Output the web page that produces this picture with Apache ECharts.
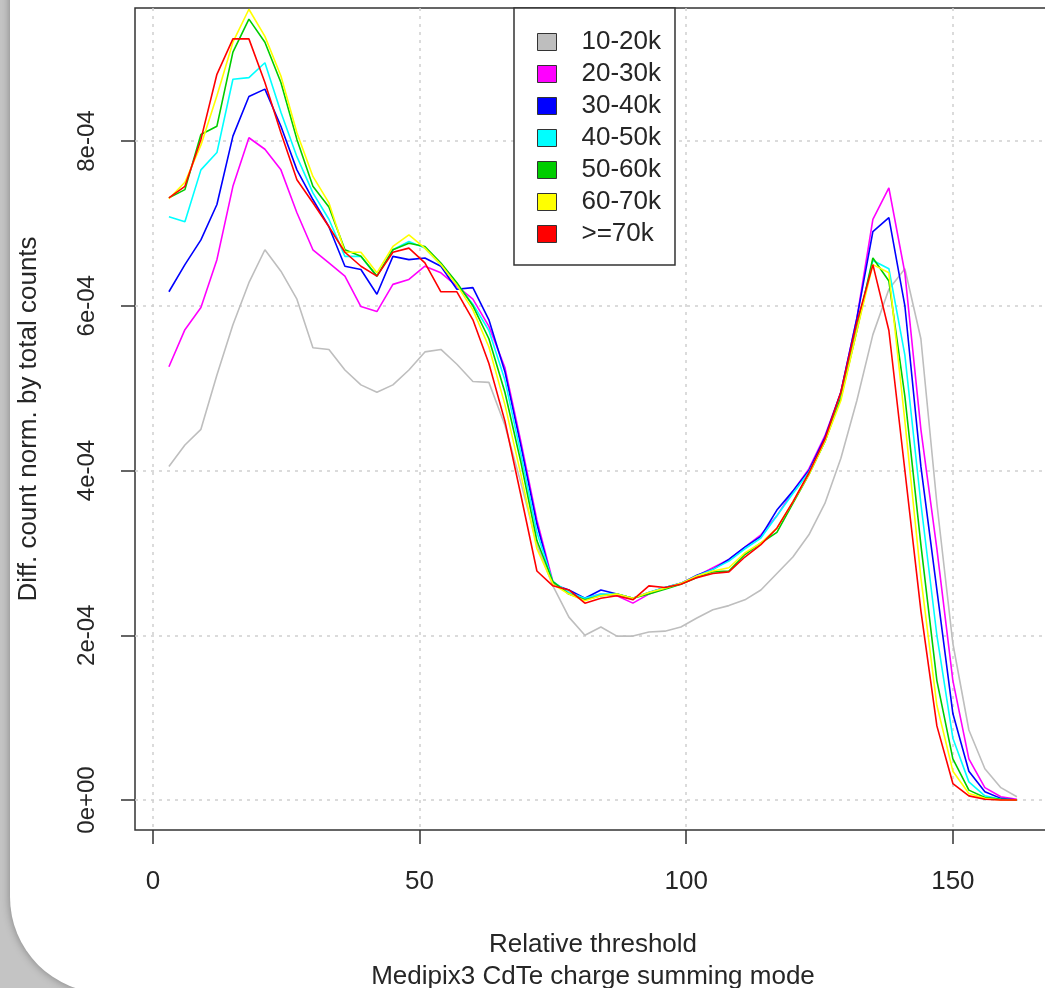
<!DOCTYPE html>
<html>
<head>
<meta charset="utf-8">
<script src="https://cdn.jsdelivr.net/npm/echarts@6/dist/echarts.min.js"></script>
<style>
    html, body { margin: 0; padding: 0; background: #fff; }
    #chart { width: 1045px; height: 988px; }
</style>
</head>
<body>
<div id="chart"></div>
<script>
// relative threshold (x)
const thresholds = [3, 6, 9, 12, 15, 18, 21, 24, 27, 30, 33, 36, 39, 42, 45, 48, 51, 54, 57, 60,
    63, 66, 69, 72, 75, 78, 81, 84, 87, 90, 93, 96, 99, 102, 105, 108, 111, 114, 117, 120,
    123, 126, 129, 132, 135, 138, 141, 144, 147, 150, 153, 156, 159, 162];

// diff. count norm. by total counts, in units of 1e-4
const counts10_20k = [4.05, 4.31, 4.5, 5.16, 5.77, 6.28, 6.68, 6.42, 6.08, 5.49, 5.47, 5.22, 5.04, 4.95, 5.04, 5.22, 5.44, 5.47, 5.29, 5.08,
    5.07, 4.55, 3.85, 3.1, 2.6, 2.22, 2.0, 2.1, 1.99, 1.99, 2.04, 2.05, 2.1, 2.21, 2.31, 2.36, 2.43, 2.55, 2.75, 2.95,
    3.22, 3.6, 4.15, 4.85, 5.65, 6.2, 6.45, 5.6, 3.6, 1.9, 0.85, 0.38, 0.15, 0.04];
const counts20_30k = [5.26, 5.71, 5.98, 6.56, 7.45, 8.04, 7.9, 7.65, 7.13, 6.68, 6.52, 6.36, 5.99, 5.93, 6.26, 6.32, 6.48, 6.4, 6.24, 6.08,
    5.75, 5.25, 4.35, 3.4, 2.65, 2.5, 2.45, 2.5, 2.48, 2.39, 2.5, 2.57, 2.63, 2.72, 2.82, 2.92, 3.07, 3.22, 3.45, 3.75,
    4.02, 4.42, 4.95, 5.85, 7.05, 7.43, 6.4, 4.5, 3.05, 1.45, 0.5, 0.15, 0.04, 0.01];
const counts30_40k = [6.17, 6.5, 6.8, 7.23, 8.06, 8.54, 8.63, 8.18, 7.65, 7.29, 6.96, 6.48, 6.44, 6.14, 6.6, 6.56, 6.58, 6.48, 6.2, 6.22,
    5.83, 5.2, 4.3, 3.35, 2.62, 2.55, 2.45, 2.55, 2.5, 2.45, 2.52, 2.58, 2.63, 2.73, 2.8, 2.92, 3.07, 3.2, 3.52, 3.75,
    4.0, 4.4, 4.95, 5.85, 6.9, 7.07, 6.0, 4.05, 2.55, 1.05, 0.35, 0.1, 0.02, 0];
const counts40_50k = [7.08, 7.02, 7.65, 7.86, 8.75, 8.77, 8.95, 8.35, 7.81, 7.37, 7.05, 6.6, 6.6, 6.36, 6.68, 6.78, 6.7, 6.5, 6.26, 6.02,
    5.7, 5.1, 4.2, 3.25, 2.65, 2.52, 2.45, 2.5, 2.5, 2.45, 2.52, 2.58, 2.63, 2.72, 2.8, 2.9, 3.05, 3.18, 3.45, 3.72,
    3.98, 4.35, 4.9, 5.75, 6.55, 6.45, 5.4, 3.6, 2.0, 0.75, 0.22, 0.05, 0.01, 0];
const counts50_60k = [7.31, 7.41, 8.08, 8.18, 9.08, 9.48, 9.2, 8.71, 8.02, 7.45, 7.2, 6.68, 6.6, 6.36, 6.68, 6.76, 6.72, 6.52, 6.28, 6.0,
    5.6, 4.95, 4.1, 3.15, 2.65, 2.5, 2.43, 2.48, 2.5, 2.45, 2.5, 2.56, 2.62, 2.7, 2.77, 2.78, 2.98, 3.12, 3.25, 3.6,
    3.95, 4.35, 4.88, 5.7, 6.58, 6.3, 4.9, 3.1, 1.45, 0.5, 0.12, 0.03, 0.01, 0];
const counts60_70k = [7.3, 7.5, 7.95, 8.55, 9.2, 9.6, 9.27, 8.79, 8.1, 7.57, 7.25, 6.65, 6.65, 6.4, 6.72, 6.86, 6.7, 6.5, 6.25, 5.95,
    5.5, 4.8, 3.95, 3.05, 2.62, 2.5, 2.42, 2.48, 2.5, 2.45, 2.52, 2.57, 2.63, 2.72, 2.78, 2.82, 3.0, 3.12, 3.3, 3.62,
    3.95, 4.35, 4.85, 5.7, 6.5, 6.4, 4.6, 2.7, 1.15, 0.35, 0.08, 0.02, 0, 0];
const counts70k = [7.31, 7.45, 8.02, 8.81, 9.24, 9.24, 8.71, 8.1, 7.53, 7.25, 6.96, 6.65, 6.48, 6.36, 6.65, 6.7, 6.52, 6.17, 6.17, 5.83,
    5.3, 4.6, 3.7, 2.78, 2.6, 2.55, 2.39, 2.45, 2.48, 2.43, 2.6, 2.58, 2.62, 2.7, 2.75, 2.77, 2.95, 3.1, 3.3, 3.62,
    3.97, 4.38, 4.95, 5.8, 6.5, 5.7, 4.0, 2.3, 0.9, 0.2, 0.05, 0.01, 0, 0];

const seriesNames = ['10-20k', '20-30k', '30-40k', '40-50k', '50-60k', '60-70k', '>=70k'];
const seriesValues = [counts10_20k, counts20_30k, counts30_40k, counts40_50k, counts50_60k, counts60_70k, counts70k];

const xTicks = [0, 50, 100, 150];
const yTicks = [0, 2, 4, 6, 8];

// R default palette: gray, magenta, blue, cyan, green3, yellow, red
const colors = ['#bebebe', '#ff00ff', '#0000ff', '#00ffff', '#00cd00', '#ffff00', '#ff0000'];
const font = '"Liberation Sans", Arial, Helvetica, sans-serif';
const ink = '#262626';

const chart = echarts.init(document.getElementById('chart'));

const option = {
    animation: false,
    color: colors,
    graphic: [
        {
            type: 'rect',
            z: -10,
            silent: true,
            shape: { x: 0, y: 0, width: 1045, height: 988 },
            style: { fill: '#c4c4c4' }
        },
        {
            type: 'rect',
            z: -9,
            silent: true,
            shape: { x: 10, y: -200, width: 1200, height: 1193, r: [0, 0, 0, 96] },
            style: { fill: '#fff', shadowBlur: 8, shadowColor: 'rgba(0,0,0,0.35)' }
        }
    ],
    grid: {
        left: 135,
        top: 8,
        width: 916,
        height: 822,
        outerBoundsMode: 'none',
        containLabel: false,
        show: true,
        borderColor: '#333',
        borderWidth: 1.5,
        backgroundColor: 'transparent'
    },
    legend: {
        orient: 'vertical',
        left: 514,
        top: 8,
        padding: [21, 14, 18, 23],
        itemWidth: 19,
        itemHeight: 17,
        itemGap: 6,
        icon: 'rect',
        selectedMode: false,
        backgroundColor: '#fff',
        borderColor: '#333',
        borderWidth: 1.5,
        itemStyle: { borderColor: '#333', borderWidth: 1 },
        textStyle: { fontSize: 26, color: ink, fontFamily: font, padding: [0, 0, 0, 20] },
        data: seriesNames
    },
    xAxis: {
        type: 'value',
        min: -3.36,
        max: 168.4,
        axisLine: { show: false, onZero: false },
        axisTick: {
            show: true,
            length: 14,
            customValues: xTicks,
            lineStyle: { color: '#333', width: 1.5 }
        },
        axisLabel: {
            customValues: xTicks,
            margin: 39,
            fontSize: 26,
            color: ink,
            fontFamily: font
        },
        splitLine: {
            show: true,
            lineStyle: { type: [3, 5], color: '#cfcfcf', width: 1.5 }
        },
        name: 'Relative threshold\nMedipix3 CdTe charge summing mode',
        nameLocation: 'middle',
        nameGap: 99,
        nameTextStyle: { fontSize: 26, lineHeight: 32, color: ink, fontFamily: font }
    },
    yAxis: {
        type: 'value',
        min: -0.364,
        max: 9.615,
        axisLine: { show: false, onZero: false },
        axisTick: {
            show: true,
            length: 14,
            customValues: yTicks,
            lineStyle: { color: '#333', width: 1.5 }
        },
        axisLabel: {
            customValues: yTicks,
            rotate: 90,
            margin: 36,
            fontSize: 24,
            color: ink,
            fontFamily: font,
            formatter: v => (v === 0 ? '0e+00' : v + 'e-04')
        },
        splitLine: {
            show: true,
            lineStyle: { type: [3, 5], color: '#cfcfcf', width: 1.5 }
        },
        name: 'Diff. count norm. by total counts',
        nameLocation: 'middle',
        nameGap: 93,
        nameRotate: 90,
        nameTextStyle: { fontSize: 26, color: ink, fontFamily: font }
    },
    series: seriesNames.map((name, i) => ({
        name: name,
        type: 'line',
        showSymbol: false,
        symbol: 'none',
        lineStyle: { width: 1.6, color: colors[i] },
        itemStyle: { color: colors[i] },
        data: thresholds.map((x, j) => [x, seriesValues[i][j]])
    }))
};

chart.setOption(option);
</script>
</body>
</html>
